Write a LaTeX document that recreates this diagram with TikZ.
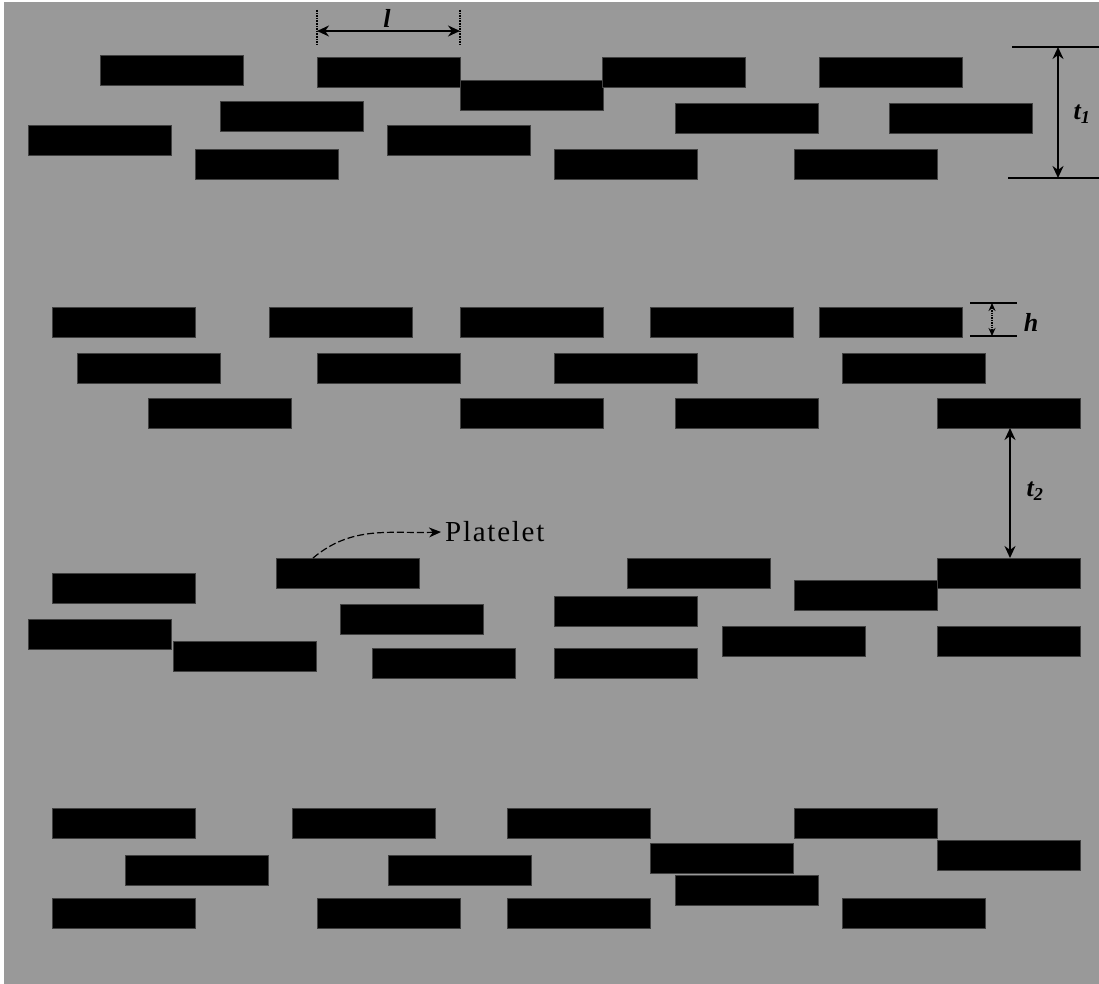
\documentclass[tikz,border=0pt]{standalone}
\usepackage{fontspec}
\setmainfont{Liberation Serif}
\usetikzlibrary{arrows.meta,calc}
\definecolor{bg}{HTML}{999999}
\begin{document}
\begin{tikzpicture}[x=1pt,y=-1pt,
  plate/.style={fill=black,draw=black!75,line width=0.6pt,inner sep=0pt,outer sep=0pt,minimum width=143pt,minimum height=30pt,anchor=north west},
  dim/.style={line width=1.6pt,{Stealth[length=12pt,width=11pt]}-{Stealth[length=12pt,width=11pt]}},
  ext/.style={line width=1.2pt},
  lab/.style={font=\fontsize{26}{26}\selectfont\bfseries\itshape,inner sep=0pt}]
\useasboundingbox (0,0) rectangle (1099,984);
\fill[white] (0,0) rectangle (1099,984);
\fill[bg] (4,2) rectangle (1099,984);
% group 1
\node[plate] (a1) at (100,55) {};
\node[plate] (a2) at (317,57) {};
\node[plate] (a3) at (460,80) {};
\node[plate] (a4) at (602,57) {};
\node[plate] (a5) at (819,57) {};
\node[plate] (a6) at (220,101) {};
\node[plate] (a7) at (675,103) {};
\node[plate] (a8) at (889,103) {};
\node[plate] (a9) at (28,125) {};
\node[plate] (a10) at (387,125) {};
\node[plate] (a11) at (195,149) {};
\node[plate] (a12) at (554,149) {};
\node[plate] (a13) at (794,149) {};
% group 2
\node[plate] (b1) at (52,307) {};
\node[plate] (b2) at (269,307) {};
\node[plate] (b3) at (460,307) {};
\node[plate] (b4) at (650,307) {};
\node[plate] (b5) at (819,307) {};
\node[plate] (b6) at (77,353) {};
\node[plate] (b7) at (317,353) {};
\node[plate] (b8) at (554,353) {};
\node[plate] (b9) at (842,353) {};
\node[plate] (b10) at (148,398) {};
\node[plate] (b11) at (460,398) {};
\node[plate] (b12) at (675,398) {};
\node[plate] (b13) at (937,398) {};
% group 3
\node[plate] (c1) at (276,558) {};
\node[plate] (c2) at (627,558) {};
\node[plate] (c3) at (937,558) {};
\node[plate] (c4) at (52,573) {};
\node[plate] (c5) at (794,580) {};
\node[plate] (c6) at (554,596) {};
\node[plate] (c7) at (340,604) {};
\node[plate] (c8) at (28,619) {};
\node[plate] (c9) at (722,626) {};
\node[plate] (c10) at (937,626) {};
\node[plate] (c11) at (173,641) {};
\node[plate] (c12) at (554,648) {};
\node[plate] (c13) at (372,648) {};
% group 4
\node[plate] (d1) at (52,808) {};
\node[plate] (d2) at (292,808) {};
\node[plate] (d3) at (507,808) {};
\node[plate] (d4) at (794,808) {};
\node[plate] (d5) at (650,843) {};
\node[plate] (d6) at (937,840) {};
\node[plate] (d7) at (125,855) {};
\node[plate] (d8) at (388,855) {};
\node[plate] (d9) at (675,875) {};
\node[plate] (d10) at (52,898) {};
\node[plate] (d11) at (317,898) {};
\node[plate] (d12) at (507,898) {};
\node[plate] (d13) at (842,898) {};
% l dimension
\coordinate (lAt) at (317,10);
\coordinate (lAb) at (317,46);
\coordinate (lBt) at (460,10);
\coordinate (lBb) at (460,46);
\coordinate (lA) at (317,31);
\coordinate (lB) at (460,31);
\draw[ext,line width=1.6pt,densely dotted] (lAt) -- (lAb);
\draw[ext,line width=1.6pt,densely dotted] (lBt) -- (lBb);
\draw[dim] (lA) -- (lB);
\node[lab] (llab) at (387,18) {l};
% t1 dimension
\coordinate (t1a) at (1012,47);
\coordinate (t1b) at (1099,47);
\coordinate (t1c) at (1008,178);
\coordinate (t1d) at (1099,178);
\coordinate (t1top) at (1058,47);
\coordinate (t1bot) at (1058,178);
\draw[ext] (t1a) -- (t1b);
\draw[ext] (t1c) -- (t1d);
\draw[dim,line width=2.4pt] (t1top) -- (t1bot);
\node[lab] (t1lab) at (1082,114) {t\textsubscript{1}};
% h dimension
\coordinate (ha) at (970,303);
\coordinate (hb) at (1017,303);
\coordinate (hc) at (970,336);
\coordinate (hd) at (1017,336);
\coordinate (htop) at (992,303);
\coordinate (hbot) at (992,336);
\draw[ext] (ha) -- (hb);
\draw[ext] (hc) -- (hd);
\draw[line width=1.4pt,densely dotted,{Stealth[length=8pt,width=7pt]}-{Stealth[length=8pt,width=7pt]}] (htop) -- (hbot);
\node[lab] (hlab) at (1031,322) {h};
% t2 dimension
\draw[dim,line width=2pt] ($(b13.south)+(1.5,0)$) -- ($(c3.north)+(1.5,0)$);
\node[lab] (t2lab) at (1035,491) {t\textsubscript{2}};
% platelet label
\node[font=\fontsize{29}{29}\selectfont\addfontfeature{LetterSpace=6},inner sep=0pt,anchor=west] (plab) at (445,532) {Platelet};
\coordinate (pstart) at (313,558);
\draw[line width=1.2pt,dash pattern=on 7pt off 3pt,-{Stealth[length=12pt,width=10pt]}] (pstart) to[out=40,in=182] ([xshift=-4pt]plab.west);
\end{tikzpicture}
\end{document}
